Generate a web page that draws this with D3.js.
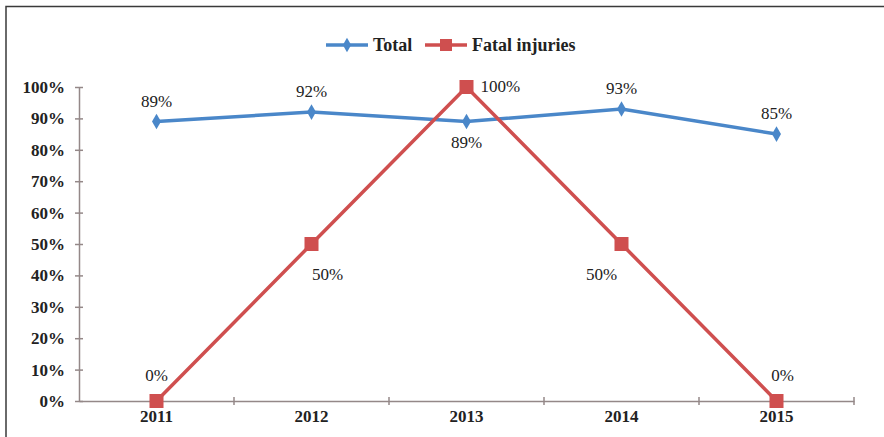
<!DOCTYPE html>
<html>
<head>
<meta charset="utf-8">
<script src="https://cdn.jsdelivr.net/npm/d3@7.9.0/dist/d3.min.js"></script>
<style>
  html, body { margin: 0; padding: 0; background: #fff; }
  svg { display: block; font-family: "Liberation Serif", "DejaVu Serif", serif; }
</style>
</head>
<body>
<svg id="chart"></svg>
<script>
// --- Data ---
const years = ["2011", "2012", "2013", "2014", "2015"];
const total = [89, 92, 89, 93, 85];
const fatal = [0, 50, 100, 50, 0];
const yTicks = [0, 10, 20, 30, 40, 50, 60, 70, 80, 90, 100];

const width = 884;
const height = 437;

const svg = d3.select('#chart')
  .attr('width', width)
  .attr('height', height);

// frame (top and left edges only)
svg.append("path")
  .attr("d", `M6,${height} L6,6.5 L${width},6.5`)
  .attr("fill", "none")
  .attr("stroke", "#3a3a3a")
  .attr("stroke-width", 1.5);

// --- Scales ---
const x = d3.scaleBand().domain(years).range([79, 854]);
const y = d3.scaleLinear().domain([0, 100]).range([401, 87]);
const cx = d => x(d) + x.bandwidth() / 2;

const axisColor = "#948888";

// y axis
const yAxis = svg.append("g")
  .attr("transform", "translate(79,0)")
  .call(d3.axisLeft(y).tickValues(yTicks).tickSize(5).tickSizeOuter(0).tickFormat(d => d + "%"));
yAxis.select(".domain").attr("stroke", axisColor).attr("stroke-width", 1.5);
yAxis.selectAll(".tick line").attr("stroke", axisColor).attr("stroke-width", 1.5).attr("x2", 4).attr("x1", -4);
yAxis.selectAll(".tick text")
  .attr("x", -14)
  .attr("fill", "#222")
  .attr("font-size", 17)
  .attr("font-weight", "bold")
  .attr("font-family", "Liberation Serif, serif");

// x axis
const xAxis = svg.append("g")
  .attr("transform", "translate(0,401)")
  .call(d3.axisBottom(x).tickSize(0).tickSizeOuter(0));
xAxis.select(".domain").attr("stroke", axisColor).attr("stroke-width", 1.5);
xAxis.selectAll(".tick text")
  .attr("dy", "0.5em")
  .attr("y", 12)
  .attr("fill", "#222")
  .attr("font-size", 17)
  .attr("font-weight", "bold")
  .attr("font-family", "Liberation Serif, serif");
// category boundary ticks
svg.append("g").selectAll("line")
  .data(years)
  .join("line")
  .attr("x1", d => x(d) + x.bandwidth())
  .attr("x2", d => x(d) + x.bandwidth())
  .attr("y1", 397)
  .attr("y2", 405)
  .attr("stroke", axisColor)
  .attr("stroke-width", 1.5);

const blue = "#4a87c9";
const red = "#cf4f4f";

const line = d3.line().x((d, i) => cx(years[i])).y(d => y(d));

// Total series
svg.append("path")
  .datum(total)
  .attr("d", line)
  .attr("fill", "none")
  .attr("stroke", blue)
  .attr("stroke-width", 3.5);
svg.append("g").selectAll("path")
  .data(total)
  .join("path")
  .attr("d", d3.symbol(d3.symbolDiamond, 70))
  .attr("transform", (d, i) => `translate(${cx(years[i])},${y(d)})`)
  .attr("fill", blue);

// Fatal series
svg.append("path")
  .datum(fatal)
  .attr("d", line)
  .attr("fill", "none")
  .attr("stroke", red)
  .attr("stroke-width", 3.5);
svg.append("g").selectAll("rect")
  .data(fatal)
  .join("rect")
  .attr("x", (d, i) => cx(years[i]) - 7)
  .attr("y", d => y(d) - 7)
  .attr("width", 14)
  .attr("height", 14)
  .attr("fill", red);

// --- Data labels ---
const labelStyle = sel => sel
  .attr("fill", "#222")
  .attr("font-size", 17)
  .attr("font-family", "Liberation Serif, serif");

const totalOffsets = [[0, -15], [0, -15], [0, 26], [0, -15], [0, -15]];
svg.append("g").selectAll("text")
  .data(total)
  .join("text")
  .attr("x", (d, i) => cx(years[i]) + totalOffsets[i][0])
  .attr("y", (d, i) => y(d) + totalOffsets[i][1])
  .attr("text-anchor", "middle")
  .call(labelStyle)
  .text(d => d + "%");

const fatalOffsets = [[0, -20, "middle"], [16, 36, "middle"], [14, 5, "start"], [-20, 36, "middle"], [6, -20, "middle"]];
svg.append("g").selectAll("text")
  .data(fatal)
  .join("text")
  .attr("x", (d, i) => cx(years[i]) + fatalOffsets[i][0])
  .attr("y", (d, i) => y(d) + fatalOffsets[i][1])
  .attr("text-anchor", (d, i) => fatalOffsets[i][2])
  .call(labelStyle)
  .text(d => d + "%");

// --- Legend ---
const legend = svg.append("g").attr("transform", "translate(326,45)");
const items = [
  { name: "Total", color: blue, x: 0, sym: "diamond" },
  { name: "Fatal injuries", color: red, x: 99, sym: "square" }
];
items.forEach(it => {
  const g = legend.append("g").attr("transform", `translate(${it.x},0)`);
  g.append("line").attr("x1", 0).attr("x2", 42).attr("stroke", it.color).attr("stroke-width", 3.5);
  if (it.sym === "diamond") {
    g.append("path").attr("d", d3.symbol(d3.symbolDiamond, 60)).attr("transform", "translate(21,0)").attr("fill", it.color);
  } else {
    g.append("rect").attr("x", 15).attr("y", -6).attr("width", 12).attr("height", 12).attr("fill", it.color);
  }
  g.append("text")
    .attr("x", 47)
    .attr("y", 6)
    .attr("fill", "#222")
    .attr("font-size", 18)
    .attr("font-weight", "bold")
    .attr("font-family", "Liberation Serif, serif")
    .text(it.name);
});
</script>
</body>
</html>
